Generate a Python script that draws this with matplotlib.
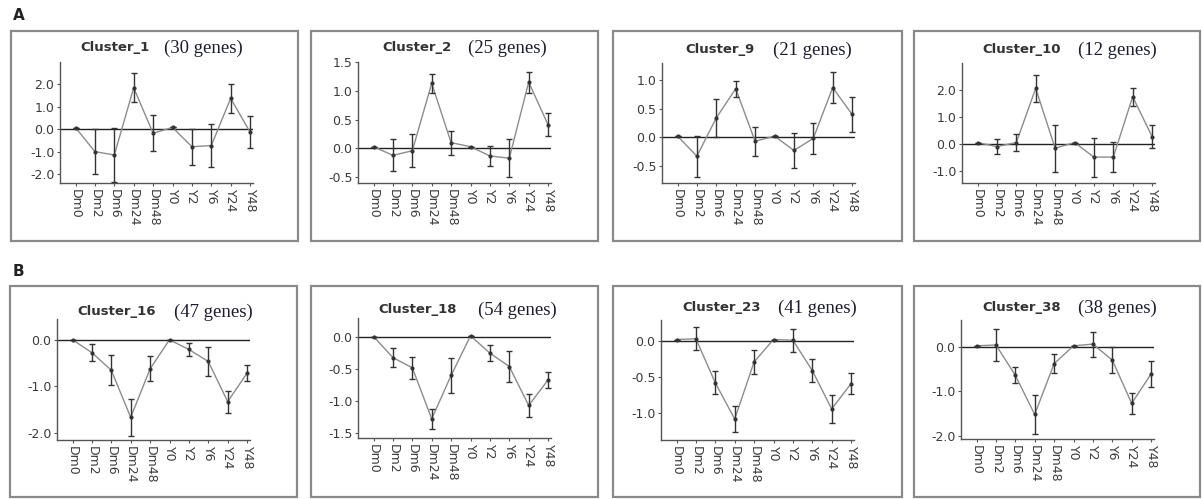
import matplotlib.pyplot as plt
from matplotlib.patches import Rectangle

# time points (x categories)
timepoints = ['Dm0', 'Dm2', 'Dm6', 'Dm24', 'Dm48', 'Y0', 'Y2', 'Y6', 'Y24', 'Y48']

# cluster names and gene counts
clusters = ['Cluster_1', 'Cluster_2', 'Cluster_9', 'Cluster_10',
            'Cluster_16', 'Cluster_18', 'Cluster_23', 'Cluster_38']
gene_counts = [30, 25, 21, 12, 47, 54, 41, 38]

# mean expression profiles
c1_mean = [0.07, -1.0, -1.15, 1.85, -0.18, 0.08, -0.78, -0.73, 1.38, -0.13]
c2_mean = [0.03, -0.12, -0.04, 1.13, 0.1, 0.03, -0.13, -0.17, 1.15, 0.41]
c9_mean = [0.02, -0.33, 0.34, 0.85, -0.07, 0.02, -0.23, -0.02, 0.87, 0.4]
c10_mean = [0.05, -0.1, 0.05, 2.06, -0.16, 0.05, -0.49, -0.49, 1.75, 0.27]
c16_mean = [0.01, -0.27, -0.65, -1.67, -0.62, 0.01, -0.2, -0.46, -1.33, -0.71]
c18_mean = [0.01, -0.32, -0.48, -1.28, -0.6, 0.02, -0.25, -0.46, -1.07, -0.67]
c23_mean = [0.02, 0.03, -0.58, -1.08, -0.29, 0.02, 0.01, -0.41, -0.94, -0.59]
c38_mean = [0.02, 0.04, -0.64, -1.52, -0.38, 0.02, 0.06, -0.3, -1.27, -0.61]

# error bars
c1_err = [0.0, 1.0, 1.2, 0.65, 0.8, 0.0, 0.8, 0.97, 0.65, 0.72]
c2_err = [0.0, 0.28, 0.29, 0.17, 0.21, 0.0, 0.17, 0.33, 0.18, 0.2]
c9_err = [0.0, 0.36, 0.33, 0.14, 0.25, 0.0, 0.3, 0.27, 0.27, 0.3]
c10_err = [0.0, 0.28, 0.33, 0.5, 0.87, 0.0, 0.72, 0.55, 0.34, 0.42]
c16_err = [0.0, 0.18, 0.32, 0.4, 0.27, 0.0, 0.15, 0.32, 0.24, 0.17]
c18_err = [0.0, 0.15, 0.17, 0.16, 0.27, 0.0, 0.13, 0.24, 0.18, 0.13]
c23_err = [0.0, 0.16, 0.16, 0.18, 0.17, 0.0, 0.16, 0.16, 0.19, 0.14]
c38_err = [0.0, 0.35, 0.18, 0.44, 0.21, 0.0, 0.28, 0.3, 0.23, 0.29]

means = [c1_mean, c2_mean, c9_mean, c10_mean, c16_mean, c18_mean, c23_mean, c38_mean]
errs = [c1_err, c2_err, c9_err, c10_err, c16_err, c18_err, c23_err, c38_err]

# y ticks and limits per panel
yticks = [[-2.0, -1.0, 0.0, 1.0, 2.0], [-0.5, 0.0, 0.5, 1.0, 1.5],
          [-0.5, 0.0, 0.5, 1.0], [-1.0, 0.0, 1.0, 2.0],
          [-2.0, -1.0, 0.0], [-1.5, -1.0, -0.5, 0.0],
          [-1.0, -0.5, 0.0], [-2.0, -1.0, 0.0]]
ylims = [(-2.4, 3.0), (-0.6, 1.5), (-0.8, 1.3), (-1.45, 3.0),
         (-2.16, 0.46), (-1.58, 0.3), (-1.37, 0.29), (-2.07, 0.6)]

W, H = 1202, 499
fig = plt.figure(figsize=(W / 100, H / 100), dpi=100)

# layout in pixels
boxes = [(11, 31, 298, 241), (311, 31, 598, 241), (613, 31, 902, 241), (914, 31, 1200, 241),
         (10, 286, 297, 497), (311, 286, 598, 497), (613, 286, 902, 497), (914, 286, 1200, 497)]
axes_px = [(60, 62, 183), (358, 62, 183), (662, 63, 183), (962, 63, 183),
           (57, 319, 440), (358, 318, 438), (661, 320, 440), (961, 320, 439)]
title_px = [(80, 243, 48), (382, 547, 48), (685, 852, 50), (982, 1157, 50),
            (77, 253, 312), (378, 557, 310), (682, 857, 308), (982, 1157, 308)]

for i in range(8):
    x0, y0, x1, y1 = boxes[i]
    fig.patches.append(Rectangle((x0 / W, 1 - y1 / H), (x1 - x0) / W, (y1 - y0) / H,
                                 transform=fig.transFigure, fill=False,
                                 edgecolor='#8a8a8a', linewidth=1.6))

    left, top, bottom = axes_px[i]
    ax = fig.add_axes([left / W, 1 - bottom / H, 193 / W, (bottom - top) / H])
    x = list(range(len(timepoints)))
    ax.axhline(0, color='#222222', linewidth=1.0, zorder=1)
    ax.plot(x, means[i], color='#8c8c8c', linewidth=1.0, zorder=2)
    ax.errorbar(x, means[i], yerr=errs[i], fmt='o', markersize=2,
                color='#333333', ecolor='#333333', elinewidth=1.0,
                capsize=2.5, capthick=1.0, zorder=3)
    ax.set_xlim(-0.8, 9.15)
    ax.set_ylim(ylims[i])
    ax.set_yticks(yticks[i])
    ax.set_yticklabels(['%.1f' % v for v in yticks[i]])
    ax.set_xticks(x)
    ax.set_xticklabels(timepoints, rotation=270, ha='center', va='top')
    for s in ['top', 'right']:
        ax.spines[s].set_visible(False)
    for s in ['left', 'bottom']:
        ax.spines[s].set_color('#555555')
        ax.spines[s].set_linewidth(1.0)
    ax.tick_params(axis='both', labelsize=9, colors='#555555', labelcolor='#3a3a3a',
                   length=2.5, width=0.8, pad=1.5)
    ax.patch.set_alpha(0)

    tl, tr, ty = title_px[i]
    fig.text(tl / W, 1 - ty / H, clusters[i], ha='left', va='center',
             fontsize=9.5, fontweight='bold', color='#333333')
    fig.text(tr / W, 1 - ty / H, '(%d genes)' % gene_counts[i], ha='right', va='center',
             fontsize=13.5, family='Liberation Serif', color='#1c1c30')

fig.text(13 / W, 1 - 16 / H, 'A', ha='left', va='center', fontsize=11, fontweight='bold', color='#222222')
fig.text(13 / W, 1 - 272 / H, 'B', ha='left', va='center', fontsize=11, fontweight='bold', color='#222222')

fig.savefig('out.png', dpi=100)
